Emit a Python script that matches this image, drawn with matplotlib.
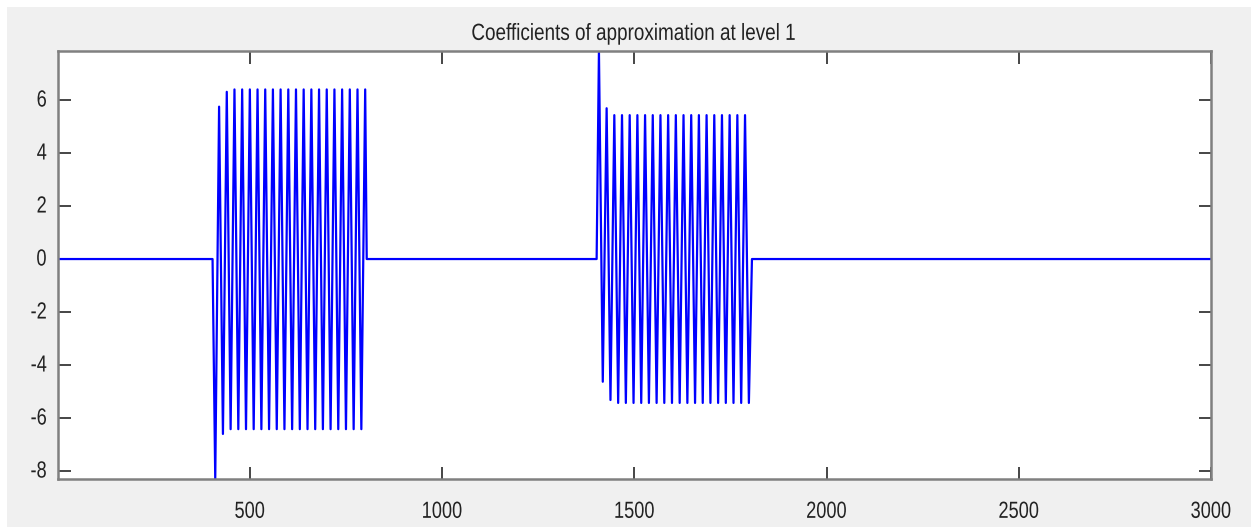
import numpy as np
import matplotlib.pyplot as plt
from matplotlib.patches import Rectangle
from matplotlib.transforms import Affine2D
from matplotlib import patheffects

# approximation coefficients (level 1), read off the reference as extremum points
# burst 1: samples ~403..804
burst1_start, burst1_end = 403, 804
burst1_peak_x = np.arange(420, 801, 20)
burst1_peaks = [5.75, 6.31, 6.40, 6.40, 6.40, 6.40, 6.40, 6.40, 6.40, 6.40,
                6.40, 6.40, 6.40, 6.40, 6.40, 6.40, 6.40, 6.40, 6.40, 6.40]
burst1_trough_x = np.arange(410, 791, 20)
burst1_troughs = [-8.30, -6.60, -6.42, -6.42, -6.42, -6.42, -6.42, -6.42, -6.42, -6.42,
                  -6.42, -6.42, -6.42, -6.42, -6.42, -6.42, -6.42, -6.42, -6.42, -6.42]

# burst 2: samples ~1402..1806
burst2_start, burst2_end = 1402, 1806
burst2_peak_x = np.arange(1408, 1789, 20)
burst2_peaks = [7.85, 5.69, 5.43, 5.43, 5.43, 5.43, 5.43, 5.43, 5.43, 5.43,
                5.43, 5.43, 5.43, 5.43, 5.43, 5.43, 5.43, 5.43, 5.43, 5.43]
burst2_trough_x = np.arange(1418, 1799, 20)
burst2_troughs = [-4.63, -5.32, -5.43, -5.43, -5.43, -5.43, -5.43, -5.43, -5.43, -5.43,
                  -5.43, -5.43, -5.43, -5.43, -5.43, -5.43, -5.43, -5.43, -5.43, -5.43]

n_samples = 3000
x_ticks = [500, 1000, 1500, 2000, 2500, 3000]
y_ticks = [-8, -6, -4, -2, 0, 2, 4, 6]


def burst(start, end, px, pv, tx, tv):
    xs = np.concatenate([px, tx])
    vs = np.concatenate([pv, tv])
    order = np.argsort(xs)
    return ([start] + list(xs[order]) + [end], [0.0] + list(vs[order]) + [0.0])


class Squeeze(patheffects.AbstractPathEffect):
    """draw text horizontally squeezed (the reference font is a narrow one)"""
    def __init__(self, sx, anchor='center'):
        super().__init__()
        self.sx = sx
        self.anchor = anchor

    def draw_path(self, renderer, gc, tpath, affine, rgbFace=None):
        ext = tpath.get_extents()
        x0 = {'left': ext.x0, 'center': (ext.x0 + ext.x1) / 2, 'right': ext.x1}[self.anchor]
        t = Affine2D().translate(-x0, 0).scale(self.sx, 1).translate(x0, 0) + affine
        renderer.draw_path(gc, tpath, t, rgbFace)


b1x, b1y = burst(burst1_start, burst1_end, burst1_peak_x, burst1_peaks,
                 burst1_trough_x, burst1_troughs)
b2x, b2y = burst(burst2_start, burst2_end, burst2_peak_x, burst2_peaks,
                 burst2_trough_x, burst2_troughs)
xs = [1] + b1x + b2x + [n_samples]
ys = [0.0] + b1y + b2y + [0.0]

plt.rcParams['font.family'] = ['Liberation Sans', 'DejaVu Sans']
plt.rcParams['axes.unicode_minus'] = False

fig = plt.figure(figsize=(12.51, 5.27), dpi=100, facecolor='white')
fig.patches.append(Rectangle((7 / 1251, 0), 1, 1 - 7 / 527, transform=fig.transFigure,
                             facecolor='#f0f0f0', edgecolor='none', zorder=-10))
ax = fig.add_axes([58 / 1251, 1 - 479 / 527, (1211 - 58) / 1251, (479 - 51) / 527])
ax.set_zorder(1)
ax.plot(xs, ys, color='blue', linewidth=1.6)
ax.set_xlim(1, n_samples)
ax.set_ylim(-8.3, 7.85)
ax.set_xticks(x_ticks)
ax.set_yticks(y_ticks)
title = ax.set_title('Coefficients of approximation at level 1', fontsize=16.8,
                     color='#222222', pad=8)
title.set_path_effects([Squeeze(0.81, 'center')])
ax.tick_params(direction='in', length=9, width=1.2, color='#262626', labelcolor='#222222',
               labelsize=16.8, top=True, right=True)
ax.tick_params(axis='x', pad=15)
ax.tick_params(axis='y', pad=8)
for s in ax.spines.values():
    s.set_color('#808080')
    s.set_linewidth(1.8)
for lab in ax.get_xticklabels():
    lab.set_path_effects([Squeeze(0.78, 'center')])
for lab in ax.get_yticklabels():
    lab.set_path_effects([Squeeze(0.78, 'right')])
    lab.set_va('center')

fig.savefig('out.png', dpi=100, facecolor=fig.get_facecolor())
